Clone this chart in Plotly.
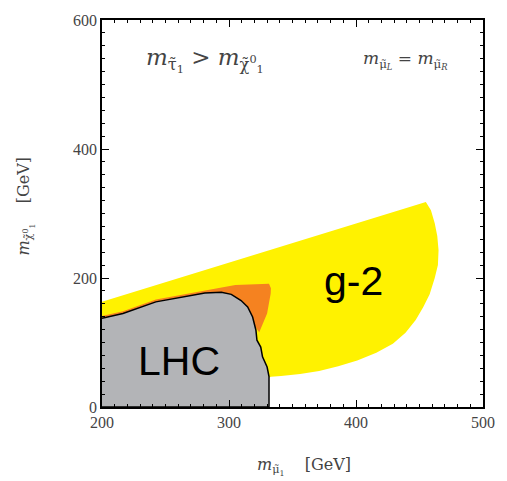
import plotly.graph_objects as go

# LHC excluded region boundary (m_smuon, m_neutralino)
lhc_x = [200, 216.5, 242.4, 268, 281, 294, 301.8, 309.5, 314.7, 318.6, 321.2, 322, 325, 326.4, 330, 331.5, 331.5, 200]
lhc_y = [137.5, 145, 163, 172, 176.7, 178, 174.6, 165, 155, 139.6, 119, 103.5, 93, 77.8, 62, 47, 0, 0]

# g-2 preferred region (yellow)
g2_x = [200, 455, 459, 462, 464, 465, 464.5, 462, 458, 453, 447, 439, 429, 416, 401, 386, 371, 356, 341, 333, 325, 250, 200]
g2_y = [163, 318, 305, 285, 265, 243, 220, 200, 175, 155, 135, 115, 98, 84, 72, 63, 56, 51, 48, 47, 40, 40, 100]

# overlap region (orange)
or_x = [200, 216.5, 242.4, 268, 289, 305, 331.5, 333, 332.8, 330, 323.8, 318.6, 300, 250, 200]
or_y = [141, 148.5, 166.5, 175.5, 184, 189, 191, 184, 175.7, 145, 116, 130, 150, 150, 130]

x_ticks = [200, 300, 400, 500]
y_ticks = [0, 200, 400, 600]

fig = go.Figure()
fig.add_trace(go.Scatter(x=g2_x, y=g2_y, fill="toself", fillcolor="#fff200",
                         line=dict(width=0), mode="lines", hoverinfo="skip"))
fig.add_trace(go.Scatter(x=or_x, y=or_y, fill="toself", fillcolor="#f58220",
                         line=dict(width=0), mode="lines", hoverinfo="skip"))
fig.add_trace(go.Scatter(x=lhc_x, y=lhc_y, fill="toself", fillcolor="#b3b4b7",
                         line=dict(width=1.5, color="black"), mode="lines", hoverinfo="skip"))

serif = "Liberation Serif"
mathf = "DejaVu Serif"
tcol = "#444444"

fig.add_annotation(x=260.5, y=72, text="LHC", showarrow=False,
                   font=dict(family="Liberation Sans", size=41, color="black"))
fig.add_annotation(x=398, y=196, text="g-2", showarrow=False,
                   font=dict(family="Liberation Sans", size=41, color="black"))
fig.add_annotation(x=281, y=538, text="<i>m</i><sub>τ̃<sub>1</sub></sub> > <i>m</i><sub>χ̃<sup>0</sup><sub>1</sub></sub>",
                   showarrow=False, font=dict(family=mathf, size=23, color=tcol))
fig.add_annotation(x=439, y=538, text="<i>m</i><sub>μ̃<sub><i>L</i></sub></sub> = <i>m</i><sub>μ̃<sub><i>R</i></sub></sub>",
                   showarrow=False, font=dict(family=mathf, size=17, color=tcol))

fig.add_annotation(xref="paper", yref="paper", x=0.53, y=-0.155, yanchor="middle",
                   text="<i>m</i><sub>μ̃<sub>1</sub></sub>    [GeV]", showarrow=False,
                   font=dict(family=mathf, size=16, color=tcol))
fig.add_annotation(xref="paper", yref="paper", x=-0.2, y=0.52, xanchor="center", yanchor="middle",
                   textangle=-90, text="<i>m</i><sub>χ̃<sup>0</sup><sub>1</sub></sub>    [GeV]", showarrow=False,
                   font=dict(family=mathf, size=16, color=tcol))

axis_common = dict(showgrid=False, zeroline=False, showline=True, linecolor="black", linewidth=1.5,
                   mirror="allticks", ticks="inside", ticklen=7, tickcolor="black",
                   tickfont=dict(family=serif, size=16, color=tcol))

fig.update_xaxes(range=[200, 500], tickvals=x_ticks, ticktext=[str(v) for v in x_ticks],
                 minor=dict(ticks="inside", ticklen=3, dtick=10, tickcolor="black"), **axis_common)
fig.update_yaxes(range=[0, 600], tickvals=y_ticks, ticktext=[str(v) for v in y_ticks],
                 minor=dict(ticks="inside", ticklen=3, dtick=20, tickcolor="black"), **axis_common)

fig.update_layout(width=507, height=481, margin=dict(l=102, r=18, t=19, b=74),
                  plot_bgcolor="white", paper_bgcolor="white", showlegend=False)

fig.write_html("out.html")
